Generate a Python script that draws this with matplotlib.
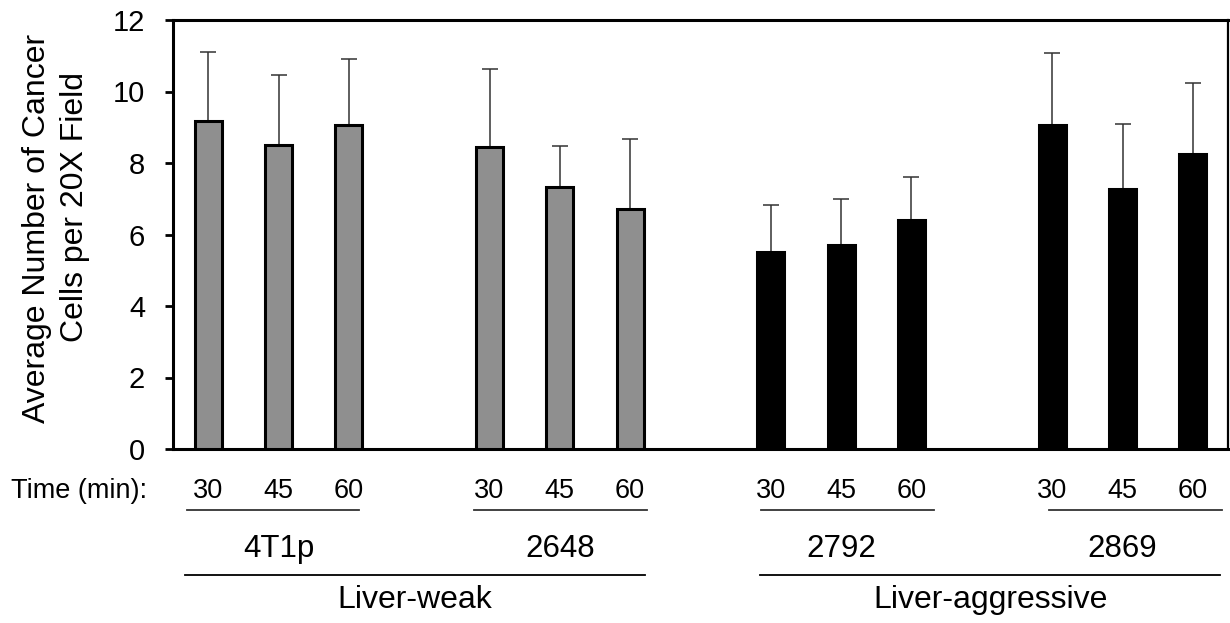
import matplotlib
matplotlib.use('Agg')
import matplotlib.pyplot as plt

plt.rcParams['font.family'] = ['Liberation Sans', 'DejaVu Sans']

# values
cell_lines = ['4T1p', '2648', '2792', '2869']
times = ['30', '45', '60']
means = [
    [9.18, 8.50, 9.05],
    [8.46, 7.34, 6.70],
    [5.50, 5.70, 6.40],
    [9.05, 7.28, 8.26],
]
upper = [
    [11.11, 10.45, 10.90],
    [10.63, 8.48, 8.66],
    [6.82, 6.98, 7.60],
    [11.07, 9.10, 10.25],
]
colors = ['#8f8f8f', '#8f8f8f', 'black', 'black']
phenotypes = ['Liver-weak', 'Liver-aggressive']

# category slots, one empty slot between cell lines
positions = [[0, 1, 2], [4, 5, 6], [8, 9, 10], [12, 13, 14]]
under_spans = [(-0.30, 2.14), (3.78, 6.24), (7.86, 10.32), (11.96, 14.41)]
pheno_spans = [(-0.33, 6.21), (7.85, 14.39)]

fig = plt.figure(figsize=(12.3, 6.23), dpi=100)
ax = fig.add_axes([173 / 1230, 1 - 449 / 623, 1055 / 1230, 429 / 623])

for i in range(4):
    err = [u - m for u, m in zip(upper[i], means[i])]
    ax.bar(positions[i], means[i], width=0.385, color=colors[i],
           edgecolor='black', linewidth=2.2, zorder=3)
    ax.errorbar(positions[i], means[i], yerr=[[0, 0, 0], err], fmt='none',
                ecolor='#333333', elinewidth=1.1, capsize=5.8, capthick=1.1,
                zorder=2)

ax.set_xlim(-0.5, 14.5)
ax.set_ylim(0, 12)
ax.set_yticks(range(0, 13, 2))
ax.set_xticks([])
ax.tick_params(axis='y', direction='out', length=6, width=2, pad=14,
               labelsize=21)
for side in ['left', 'top', 'bottom']:
    ax.spines[side].set_linewidth(2.2)
ax.spines['right'].set_linewidth(1.6)

# two-line y label, lines placed as in the reference
fig.text(37 / 1230, 1 - 228 / 623, 'Average Number of Cancer',
         rotation=90, ha='center', va='center', fontsize=23)
fig.text(75 / 1230, 1 - 207 / 623, 'Cells per 20X Field',
         rotation=90, ha='center', va='center', fontsize=23)

tr = ax.get_xaxis_transform()
ax.text(-0.0246, -0.098, 'Time (min):', transform=ax.transAxes,
        ha='right', va='center', fontsize=19.5)
for i in range(4):
    for x, t in zip(positions[i], times):
        ax.text(x, -0.098, t, transform=tr, ha='center', va='center',
                fontsize=19.5)
    a, b = under_spans[i]
    ax.plot([a, b], [-0.142, -0.142], transform=tr, color='#333333',
            lw=1.3, clip_on=False)
    ax.text(positions[i][1], -0.233, cell_lines[i], transform=tr,
            ha='center', va='center', fontsize=22.5)

for (a, b), name in zip(pheno_spans, phenotypes):
    ax.plot([a, b], [-0.294, -0.294], transform=tr, color='black',
            lw=1.3, clip_on=False)
    ax.text((a + b) / 2, -0.352, name, transform=tr, ha='center',
            va='center', fontsize=23)

fig.savefig('out.png', dpi=100)
